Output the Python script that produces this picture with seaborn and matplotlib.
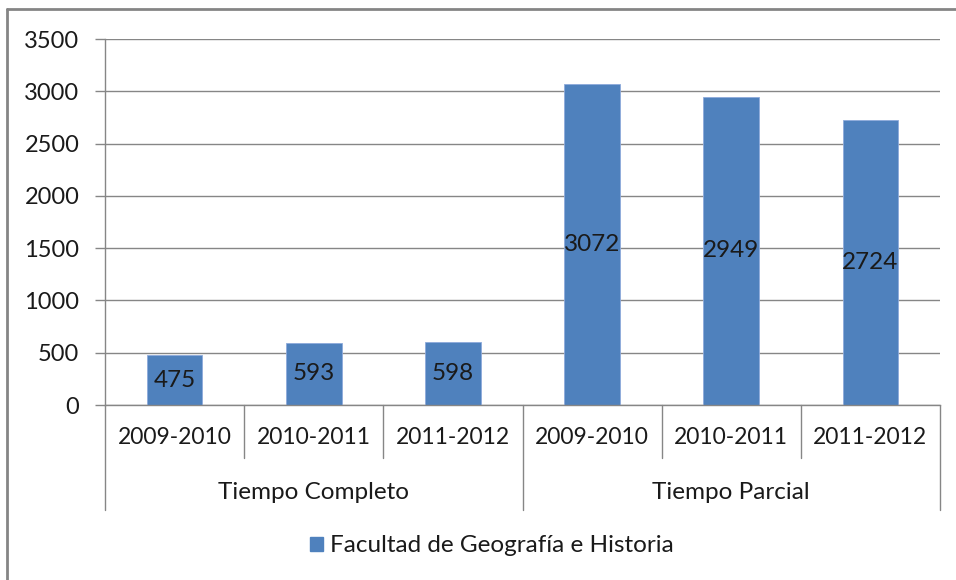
import matplotlib
matplotlib.use("Agg")
import matplotlib.pyplot as plt
import matplotlib.lines as mlines
import matplotlib.patches as mpatches
import seaborn as sns
import pandas as pd

# datos
grupos = ['Tiempo Completo', 'Tiempo Completo', 'Tiempo Completo',
          'Tiempo Parcial', 'Tiempo Parcial', 'Tiempo Parcial']
cursos = ['2009-2010', '2010-2011', '2011-2012',
          '2009-2010', '2010-2011', '2011-2012']
valores = [475, 593, 598, 3072, 2949, 2724]
serie = 'Facultad de Geografía e Historia'
yticks = [0, 500, 1000, 1500, 2000, 2500, 3000, 3500]

df = pd.DataFrame({'grupo': grupos, 'curso': cursos, 'valor': valores})
df['clave'] = df['grupo'] + ' ' + df['curso']

sns.set_style('white')
plt.rcParams['font.family'] = ['Lato', 'DejaVu Sans']
azul = '#4F81BD'
gris = '#868686'
negro = '#1a1a1a'

fig = plt.figure(figsize=(9.56, 5.80), dpi=100)
ax = fig.add_axes([105 / 956, 175 / 580, 835 / 956, 366 / 580])

sns.barplot(data=df, x='clave', y='valor', color=azul, width=0.4,
            edgecolor='#8EAADB', linewidth=0.6, saturation=1, ax=ax)

ax.set_ylim(0, 3500)
ax.set_xlim(-0.5, len(valores) - 0.5)
ax.set_yticks(yticks)
ax.set_yticklabels([str(v) for v in yticks], fontsize=17, color=negro)
ax.tick_params(axis='y', length=7.5, width=1, color=gris, pad=11, direction='out', left=True)
ax.set_xticks([])
ax.set_xlabel('')
ax.set_ylabel('')
ax.yaxis.grid(True, color=gris, linewidth=1)
ax.set_axisbelow(True)
for s in ['top', 'right']:
    ax.spines[s].set_visible(False)
ax.spines['left'].set_color(gris)
ax.spines['bottom'].set_color(gris)
ax.spines['left'].set_linewidth(1)
ax.spines['bottom'].set_linewidth(1)

# etiquetas de datos centradas
for c in ax.containers:
    ax.bar_label(c, labels=[str(v) for v in valores], label_type='center',
                 fontsize=17.5, color=negro)

# eje de categorias de dos niveles
tr = ax.get_xaxis_transform()
n = len(valores)
for i in range(n + 1):
    x = i - 0.5
    externo = (i == 0 or i == n or grupos[min(i, n - 1)] != grupos[i - 1])
    y1 = -0.287 if externo else -0.145
    ax.add_line(mlines.Line2D([x, x], [0, y1], transform=tr, color=gris,
                              linewidth=1, clip_on=False))
for i, c in enumerate(cursos):
    ax.text(i, -0.09, c, transform=tr, ha='center', va='center',
            fontsize=16.5, color=negro)
vistos = []
for g in grupos:
    if g in vistos:
        continue
    vistos.append(g)
    idx = [i for i, gg in enumerate(grupos) if gg == g]
    ax.text(sum(idx) / len(idx), -0.238, g, transform=tr, ha='center',
            va='center', fontsize=17.5, color=negro)

# leyenda
handle = mpatches.Patch(color=azul, label=serie)
fig.legend(handles=[handle], loc='center', bbox_to_anchor=(492 / 956, 1 - 546 / 580),
           frameon=False, fontsize=17.5, handlelength=0.55, handleheight=0.55,
           handletextpad=0.3, labelcolor=negro)

# borde del grafico
fig.add_artist(mlines.Line2D([7 / 956, 1], [1 - 9 / 580, 1 - 9 / 580],
                             transform=fig.transFigure, color='#858585', linewidth=2))
fig.add_artist(mlines.Line2D([7 / 956, 7 / 956], [0, 1 - 9 / 580],
                             transform=fig.transFigure, color='#858585', linewidth=2))

fig.savefig('out.png', dpi=100)
